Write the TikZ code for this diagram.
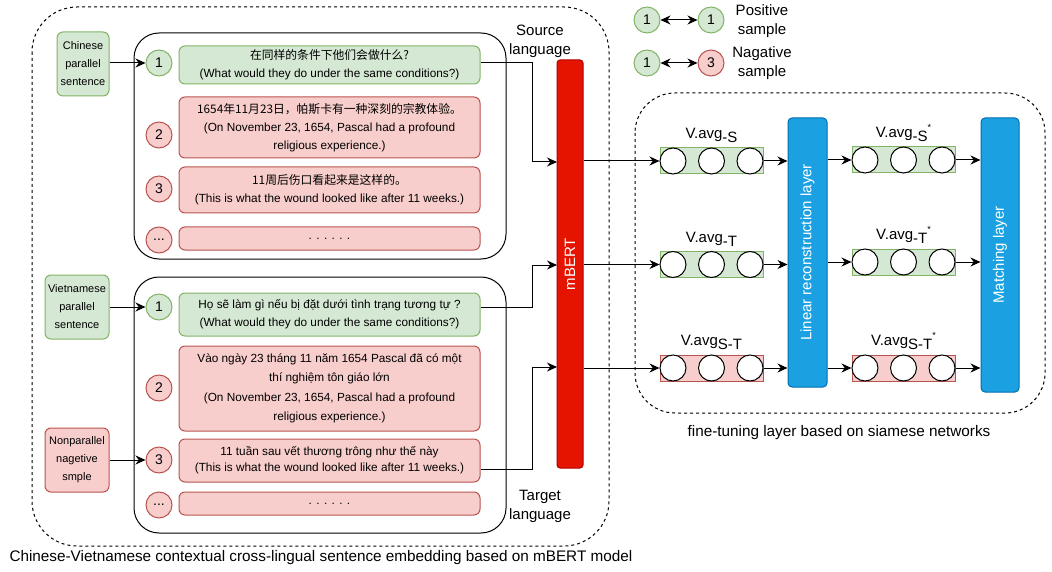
\documentclass[tikz,border=0pt]{standalone}
\usepackage{fontspec}
\setmainfont{Liberation Sans}
\newfontfamily\cjk{Noto Sans CJK SC}
\usepackage{xcolor}
\usepackage{tikz}
\usetikzlibrary{arrows.meta,positioning}

\definecolor{gfill}{HTML}{D5E8D4}
\definecolor{gline}{HTML}{82B366}
\definecolor{rfill}{HTML}{F8CECC}
\definecolor{rline}{HTML}{B85450}
\definecolor{bfill}{HTML}{1BA1E2}
\definecolor{bline}{HTML}{006EAF}
\definecolor{mfill}{HTML}{E51400}
\definecolor{mline}{HTML}{B20000}

\newcommand{\subtx}[1]{\raisebox{-4pt}{#1}}
\newcommand{\suptx}[1]{\raisebox{7pt}{\fontsize{9}{9}\selectfont #1}}

\tikzset{
  posbox/.style={draw=gline, fill=gfill, line width=1pt},
  negbox/.style={draw=rline, fill=rfill, line width=1pt},
  numbox/.style={circle, minimum size=26pt, inner sep=0pt, font=\fontsize{14}{14}\selectfont},
  sentbox/.style={rectangle, rounded corners=6pt, minimum width=301pt, inner sep=0pt, align=center, font=\fontsize{11.8}{18}\selectfont},
  tagbox/.style={rectangle, rounded corners=6pt, minimum height=64pt, inner sep=0pt, align=center, font=\fontsize{11}{18}\selectfont},
  arrowline/.style={-{Stealth[length=10pt,width=9pt]}, line width=1pt},
  twoway/.style={{Stealth[length=10pt,width=9pt]}-{Stealth[length=10pt,width=9pt]}, line width=1pt},
  unitcircle/.style={circle, draw, fill=white, minimum size=26pt, inner sep=0pt, line width=1pt},
  vecbox/.style={rectangle, minimum width=103pt, minimum height=26pt, inner sep=0pt},
  layerbox/.style={rectangle, draw=bline, fill=bfill, rounded corners=4pt, line width=1pt},
  bigtext/.style={font=\fontsize{15}{19}\selectfont, align=center},
  sidetext/.style={rotate=90, text=white, font=\fontsize{15}{15}\selectfont},
  dashframe/.style={draw, dash pattern=on 3pt off 3pt, line width=1pt}
}

\begin{document}
\begin{tikzpicture}[x=1pt, y=-1pt]
\useasboundingbox (0,0) rectangle (1052,572);

\draw[dashframe, rounded corners=45pt] (32,7) rectangle (609,546);
\draw[line width=1pt, rounded corners=25pt] (134,33) rectangle (506,259);
\draw[line width=1pt, rounded corners=25pt] (134,277) rectangle (506,533);

\node[tagbox, posbox, minimum width=52pt] (cp) at (83,64) {Chinese\\parallel\\sentence};
\node[tagbox, posbox, minimum width=64pt] (vp) at (77,307) {Vietnamese\\parallel\\sentence};
\node[tagbox, negbox, minimum width=64pt] (np) at (77,460) {Nonparallel\\nagetive\\smple};

\node[numbox, posbox] (zn1) at (159,63) {1};
\node[numbox, negbox] (zn2) at (159,135) {2};
\node[numbox, negbox] (zn3) at (159,189) {3};
\node[numbox, negbox] (zn4) at (159,240) {...};
\node[numbox, posbox] (vn1) at (159,307) {1};
\node[numbox, negbox] (vn2) at (159,388) {2};
\node[numbox, negbox] (vn3) at (159,460) {3};
\node[numbox, negbox] (vn4) at (159,505) {...};

\node[sentbox, posbox, minimum height=38pt] (zh1) at (329.5,65) {{\cjk 在同样的条件下他们会做什么?}\\(What would they do under the same conditions?)};
\node[sentbox, negbox, minimum height=61pt] (zh2) at (329.5,127.5) {{\cjk 1654年11月23日，帕斯卡有一种深刻的宗教体验。}\\(On November 23, 1654, Pascal had a profound\\religious experience.)};
\node[sentbox, negbox, minimum height=46pt] (zh3) at (329.5,190) {{\cjk 11周后伤口看起来是这样的。}\\(This is what the wound looked like after 11 weeks.)};
\node[sentbox, negbox, minimum height=23pt] (zh4) at (329.5,238.5) {. . . . . .};
\node[sentbox, posbox, minimum height=43pt] (vi1) at (329.5,314.5) {Họ sẽ làm gì nếu bị đặt dưới tình trạng tương tự ?\\(What would they do under the same conditions?)};
\node[sentbox, negbox, minimum height=85pt, font=\fontsize{11.8}{19.5}\selectfont] (vi2) at (329.5,388.5) {Vào ngày 23 tháng 11 năm 1654 Pascal đã có một\\thí nghiệm tôn giáo lớn\\(On November 23, 1654, Pascal had a profound\\religious experience.)};
\node[sentbox, negbox, minimum height=43pt, font=\fontsize{11.8}{16}\selectfont] (vi3) at (329.5,460.5) {11 tuần sau vết thương trông như thế này\\(This is what the wound looked like after 11 weeks.)};
\node[sentbox, negbox, minimum height=23pt] (vi4) at (329.5,503.5) {. . . . . .};

\node[rectangle, draw=mline, fill=mfill, rounded corners=3pt, line width=1pt, minimum width=26pt, minimum height=408pt] (mbert) at (570,264) {};
\node[sidetext] (mbertlbl) at (mbert) {mBERT};

\node[bigtext] (srclang) at (540,41) {Source\\language};
\node[bigtext] (tgtlang) at (540,506) {Target\\language};

\coordinate (mi1) at (557,162);
\coordinate (mi2) at (557,265);
\coordinate (mi3) at (557,367);

\draw[arrowline] (cp.east |- zn1) -- (zn1.west);
\draw[arrowline] (vp.east |- vn1) -- (vn1.west);
\draw[arrowline] (np.east |- vn3) -- (vn3.west);
\draw[arrowline] (zh1.east |- zn1) -- ++(52,0) |- (mi1);
\draw[arrowline] (vi1.east |- vn1) -- ++(52,0) |- (mi2);
\draw[arrowline] ([yshift=-8.5pt]vi3.east) -- ++(52,0) |- (mi3);

\node[anchor=west, font=\fontsize{15.3}{15}\selectfont] (leftcap) at (6,558) {Chinese-Vietnamese contextual cross-lingual sentence embedding based on mBERT model};

\node[numbox, posbox] (lg1) at (647,20) {1};
\node[numbox, posbox] (lg2) at (711,20) {1};
\node[numbox, posbox] (lg3) at (647,63) {1};
\node[numbox, negbox] (lg4) at (711,63) {3};
\draw[twoway] (lg1) -- (lg2);
\draw[twoway] (lg3) -- (lg4);
\node[bigtext] (poslbl) at (762,21) {Positive\\sample};
\node[bigtext] (neglbl) at (762,63) {Nagative\\sample};

\draw[dashframe, rounded corners=40pt] (635,93) rectangle (1045,413);

\node[vecbox, posbox] (avgs) at (711.5,161) {};
\node[vecbox, posbox] (avgt) at (711.5,264.5) {};
\node[vecbox, negbox] (avgst) at (711.5,368) {};
\node[vecbox, posbox] (avgs2) at (903.5,160) {};
\node[vecbox, posbox] (avgt2) at (903.5,262) {};
\node[vecbox, negbox] (avgst2) at (903.5,368) {};

\node[unitcircle] (avgsa) at ([xshift=-38.5pt]avgs) {};
\node[unitcircle] (avgsb) at (avgs) {};
\node[unitcircle] (avgsc) at ([xshift=38.5pt]avgs) {};
\node[unitcircle] (avgta) at ([xshift=-38.5pt]avgt) {};
\node[unitcircle] (avgtb) at (avgt) {};
\node[unitcircle] (avgtc) at ([xshift=38.5pt]avgt) {};
\node[unitcircle] (avgsta) at ([xshift=-38.5pt]avgst) {};
\node[unitcircle] (avgstb) at (avgst) {};
\node[unitcircle] (avgstc) at ([xshift=38.5pt]avgst) {};
\node[unitcircle] (avgs2a) at ([xshift=-38.5pt]avgs2) {};
\node[unitcircle] (avgs2b) at (avgs2) {};
\node[unitcircle] (avgs2c) at ([xshift=38.5pt]avgs2) {};
\node[unitcircle] (avgt2a) at ([xshift=-38.5pt]avgt2) {};
\node[unitcircle] (avgt2b) at (avgt2) {};
\node[unitcircle] (avgt2c) at ([xshift=38.5pt]avgt2) {};
\node[unitcircle] (avgst2a) at ([xshift=-38.5pt]avgst2) {};
\node[unitcircle] (avgst2b) at (avgst2) {};
\node[unitcircle] (avgst2c) at ([xshift=38.5pt]avgst2) {};

\node[bigtext, above=1pt of avgs] (lbls) {V.avg\subtx{-S}};
\node[bigtext, above=1pt of avgt] (lblt) {V.avg\subtx{-T}};
\node[bigtext, above=1pt of avgst] (lblst) {V.avg\subtx{S-T}};
\node[bigtext, above=1pt of avgs2] (lbls2) {V.avg\subtx{-S}\suptx{*}};
\node[bigtext, above=1pt of avgt2] (lblt2) {V.avg\subtx{-T}\suptx{*}};
\node[bigtext, above=1pt of avgst2] (lblst2) {V.avg\subtx{S-T}\suptx{*}};

\node[layerbox, minimum width=39pt, minimum height=269pt] (linear) at (807.5,252.5) {};
\node[sidetext] (linearlbl) at (linear) {Linear reconstruction layer};
\node[layerbox, minimum width=38pt, minimum height=274pt] (match) at (1000,255) {};
\node[sidetext] (matchlbl) at (match) {Matching layer};

\draw[arrowline] (mbert.east |- avgs) -- (avgs.west);
\draw[arrowline] (mbert.east |- avgt) -- (avgt.west);
\draw[arrowline] (mbert.east |- avgst) -- (avgst.west);
\draw[arrowline] (avgs.east) -- (linear.west |- avgs);
\draw[arrowline] (avgt.east) -- (linear.west |- avgt);
\draw[arrowline] (avgst.east) -- (linear.west |- avgst);
\draw[arrowline] (linear.east |- avgs2) -- (avgs2.west);
\draw[arrowline] (linear.east |- avgt2) -- (avgt2.west);
\draw[arrowline] (linear.east |- avgst2) -- (avgst2.west);
\draw[arrowline] (avgs2.east) -- (match.west |- avgs2);
\draw[arrowline] (avgt2.east) -- (match.west |- avgt2);
\draw[arrowline] (avgst2.east) -- (match.west |- avgst2);

\node[font=\fontsize{15.3}{15}\selectfont] (rightcap) at (839,433) {fine-tuning layer based on siamese networks};
\end{tikzpicture}
\end{document}
